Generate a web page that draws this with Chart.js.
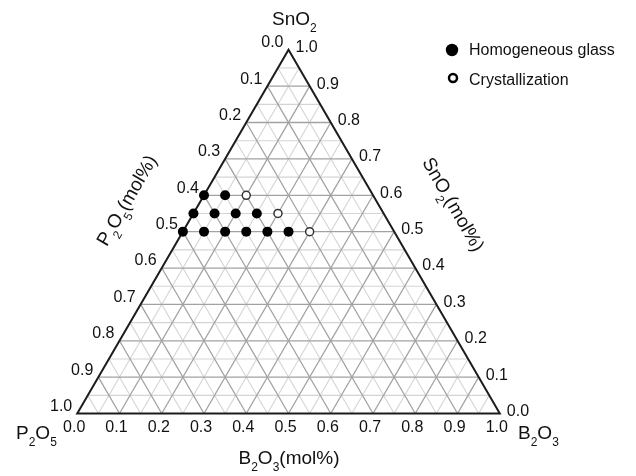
<!DOCTYPE html>
<html>
<head>
<meta charset="utf-8">
<script src="https://cdn.jsdelivr.net/npm/chart.js@4.4.1/dist/chart.umd.min.js"></script>
<style>
  html, body { margin: 0; padding: 0; background: #fff; }
  canvas { display: block; }
</style>
</head>
<body>
<canvas id="ternary" width="636" height="476"></canvas>
<script>
// mole fractions, P2O5 = 1 - B2O3 - SnO2
const glassSnO2 = [0.60, 0.60, 0.55, 0.55, 0.55, 0.55, 0.50, 0.50, 0.50, 0.50, 0.50, 0.50];
const glassB2O3 = [0.00, 0.05, 0.00, 0.05, 0.10, 0.15, 0.00, 0.05, 0.10, 0.15, 0.20, 0.25];
const crystSnO2 = [0.60, 0.55, 0.50];
const crystB2O3 = [0.10, 0.20, 0.30];
const tickValues = [0.0, 0.1, 0.2, 0.3, 0.4, 0.5, 0.6, 0.7, 0.8, 0.9, 1.0];

const FONT = '"Liberation Sans", Arial, Helvetica, sans-serif';
const H = Math.sqrt(3) / 2;

// B2O3 runs along the base, SnO2 up to the apex
function toXY(b, s) {
    return { x: b + s / 2, y: s * H };
}

// text with "_x" meaning subscript x
function drawChem(ctx, str, x, y, align, size) {
    const sub = Math.round(size * 0.63);
    const parts = [];
    for (let i = 0; i < str.length; i++) {
        if (str[i] === '_') { parts.push([str[i + 1], true]); i++; }
        else parts.push([str[i], false]);
    }
    let w = 0;
    for (const [t, s] of parts) {
        ctx.font = `${s ? sub : size}px ${FONT}`;
        w += ctx.measureText(t).width;
    }
    let cx = align === 'center' ? x - w / 2 : x;
    ctx.textAlign = 'left';
    ctx.textBaseline = 'alphabetic';
    for (const [t, s] of parts) {
        ctx.font = `${s ? sub : size}px ${FONT}`;
        ctx.fillText(t, cx, s ? y + 7 : y);
        cx += ctx.measureText(t).width;
    }
}

const ternaryFrame = {
    id: 'ternaryFrame',
    beforeDatasetsDraw(chart) {
        const { ctx, scales: { x, y } } = chart;
        const px = (b, s) => { const p = toXY(b, s); return [x.getPixelForValue(p.x), y.getPixelForValue(p.y)]; };
        const seg = (a, c) => { ctx.beginPath(); ctx.moveTo(a[0], a[1]); ctx.lineTo(c[0], c[1]); ctx.stroke(); };
        ctx.save();
        // minor grid every 0.05, major every 0.1
        for (const major of [false, true]) {
            ctx.strokeStyle = major ? '#a2a2a2' : '#d4d4d4';
            ctx.lineWidth = major ? 1.3 : 1.1;
            for (let k = 1; k < 20; k++) {
                if ((k % 2 === 0) !== major) continue;
                const v = k / 20;
                seg(px(0, v), px(1 - v, v));
                seg(px(v, 0), px(v, 1 - v));
                seg(px(1 - v, 0), px(0, 1 - v));
            }
        }
        ctx.strokeStyle = '#1c1c1c';
        ctx.lineWidth = 2;
        ctx.beginPath();
        ctx.moveTo(...px(0, 0));
        ctx.lineTo(...px(1, 0));
        ctx.lineTo(...px(0, 1));
        ctx.closePath();
        ctx.stroke();
        ctx.restore();
    },
    afterDraw(chart) {
        const { ctx, scales: { x, y } } = chart;
        const px = (b, s) => { const p = toXY(b, s); return [x.getPixelForValue(p.x), y.getPixelForValue(p.y)]; };
        ctx.save();
        ctx.fillStyle = '#111';
        ctx.font = `16px ${FONT}`;
        ctx.textBaseline = 'middle';
        tickValues.forEach(v => {
            const t = v.toFixed(1);
            const [lx, ly] = px(0, 1 - v);      // P2O5 along the left edge
            ctx.textAlign = 'right';
            ctx.fillText(t, lx - 5, ly - 7);
            const [rx, ry] = px(1 - v, v);      // SnO2 along the right edge
            ctx.textAlign = 'left';
            ctx.fillText(t, rx + 7, ry - 2);
            const [bx, by] = px(v, 0);          // B2O3 along the base
            ctx.textAlign = 'center';
            ctx.fillText(t, bx - 3, by + 14);
        });

        drawChem(ctx, 'SnO_2', 272, 25, 'left', 19);
        drawChem(ctx, 'P_2O_5', 16, 439, 'left', 19);
        drawChem(ctx, 'B_2O_3', 518, 439, 'left', 19);
        drawChem(ctx, 'B_2O_3(mol%)', 289, 464, 'center', 19);

        ctx.save();
        ctx.translate(126, 200);
        ctx.rotate(-Math.PI / 3);
        drawChem(ctx, 'P_2O_5(mol%)', 0, 7, 'center', 19);
        ctx.restore();

        ctx.save();
        ctx.translate(454, 204);
        ctx.rotate(Math.PI / 3);
        drawChem(ctx, 'SnO_2(mol%)', 0, 7, 'center', 19);
        ctx.restore();

        // legend
        ctx.fillStyle = '#000';
        ctx.beginPath();
        ctx.arc(452, 50, 6.2, 0, Math.PI * 2);
        ctx.fill();
        ctx.strokeStyle = '#000';
        ctx.lineWidth = 2.5;
        ctx.fillStyle = '#fff';
        ctx.beginPath();
        ctx.arc(453, 78, 4, 0, Math.PI * 2);
        ctx.fill();
        ctx.stroke();
        ctx.fillStyle = '#111';
        ctx.font = `16px ${FONT}`;
        ctx.textAlign = 'left';
        ctx.textBaseline = 'alphabetic';
        ctx.fillText('Homogeneous glass', 469, 55);
        ctx.fillText('Crystallization', 469, 85);
        ctx.restore();
    }
};

const glassPoints = glassSnO2.map((s, i) => toXY(glassB2O3[i], s));
const crystPoints = crystSnO2.map((s, i) => toXY(crystB2O3[i], s));

new Chart(document.getElementById('ternary').getContext('2d'), {
    type: 'scatter',
    data: {
        datasets: [
            {
                label: 'Homogeneous glass',
                data: glassPoints,
                pointRadius: 5,
                pointBackgroundColor: '#000',
                pointBorderColor: '#000',
                pointBorderWidth: 0
            },
            {
                label: 'Crystallization',
                data: crystPoints,
                pointRadius: 4,
                pointBackgroundColor: '#fff',
                pointBorderColor: '#333',
                pointBorderWidth: 1.5
            }
        ]
    },
    options: {
        responsive: false,
        animation: false,
        events: [],
        layout: { padding: 0 },
        plugins: { legend: { display: false }, tooltip: { enabled: false } },
        scales: {
            x: { type: 'linear', display: false, min: -73 / 430, max: 563 / 430 },
            y: { type: 'linear', display: false, min: -58.3 / 430, max: 417.7 / 430 }
        }
    },
    plugins: [ternaryFrame]
});
</script>
</body>
</html>
